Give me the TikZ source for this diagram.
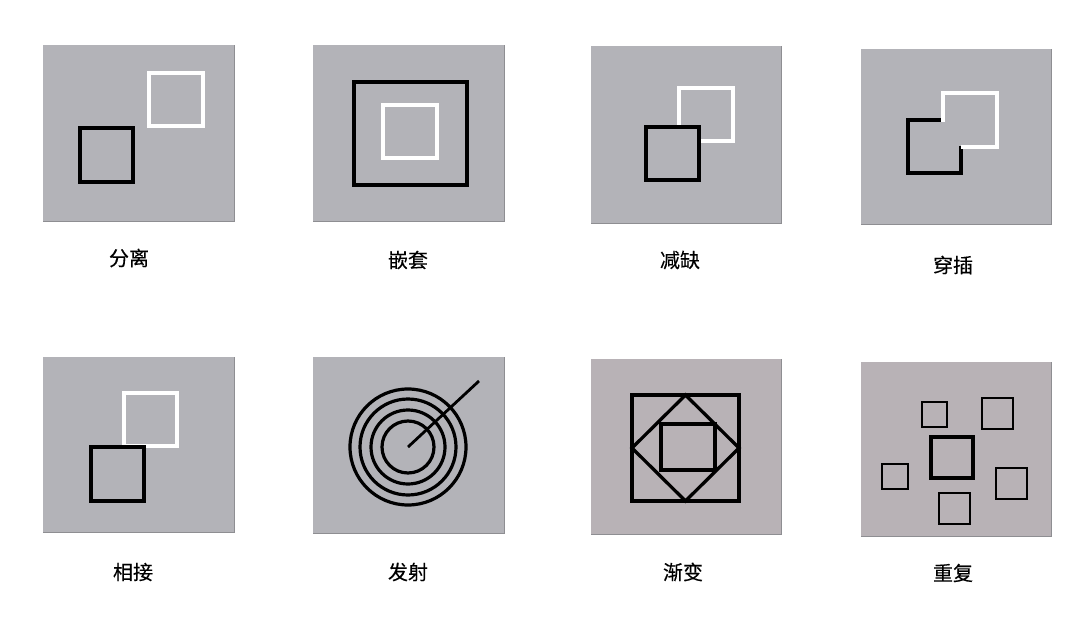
\documentclass[tikz,border=0pt]{standalone}
\usepackage{fontspec}
\newfontfamily\cjk[FakeBold=0.3]{Noto Sans CJK SC}
\definecolor{pgray}{HTML}{B3B3B8}
\definecolor{pgrayp}{HTML}{B8B2B6}
\definecolor{pedge}{HTML}{8E8E92}
\tikzset{
  panel/.style={fill=pgray, draw=none},
  panelp/.style={fill=pgrayp, draw=none},
  blk/.style={draw=black, line width=3.3pt, line join=miter},
  wht/.style={draw=white, line width=3.1pt, line join=miter},
  blks/.style={draw=black, line width=2.8pt, line join=miter},
  lbl/.style={font=\cjk\fontsize{20}{20}\selectfont, text=black, inner sep=0pt},
}
\begin{document}
\begin{tikzpicture}[x=1pt,y=-1pt]
\useasboundingbox (0,0) rectangle (1080,624);
\fill[white] (0,0) rectangle (1080,624);
% panels
\foreach \a/\b/\c/\d/\s in {43/45/234/221/panel, 313/45/504/221/panel, 591/46/781/223/panel, 861/49/1051/224/panel,
  43/357/234/532/panel, 313/357/504/533/panel, 591/359/781/534/panelp, 861/362/1051/536/panelp}{
  \fill[\s] (\a,\b) rectangle (\c,\d);
  \draw[pedge, line width=1pt] (\a,\d) -- (\c,\d) -- (\c,\b);
}
% 1 分离
\draw[wht] (149,73) rectangle (203,126);
\draw[blk] (80,128) rectangle (133,182);
\node[lbl] (l1) at (129,258) {分离};
% 2 嵌套
\draw[blk] (354,82) rectangle (467,185);
\draw[wht] (383,105) rectangle (437,158);
\node[lbl] (l2) at (408,260) {嵌套};
% 3 减缺
\draw[wht] (679,88) rectangle (733,141);
\draw[blk, fill=pgray] (646,127) rectangle (699,180);
\node[lbl] (l3) at (680,260) {减缺};
% 4 穿插
\draw[blk] (943,120) -- (908,120) -- (908,173) -- (961,173) -- (961,146);
\draw[wht] (961,147) -- (997,147) -- (997,93) -- (943,93) -- (943,121.5);
\node[lbl] (l4) at (953,265) {穿插};
% 5 相接
\draw[wht] (124,393) rectangle (177,446);
\draw[blk] (91,447) rectangle (144,501);
\node[lbl] (l5) at (133,572) {相接};
% 6 发射
\foreach \r in {26,37,48,58}{
  \draw[black, line width=3.2pt] (408,447) circle[radius=\r pt];
}
\draw[black, line width=2.8pt] (408,447) -- (479,381);
\node[lbl] (l6) at (408,572) {发射};
% 7 渐变
\draw[blk] (632,395) rectangle (739,501);
\draw[blk] (685.5,395) -- (739,448) -- (685.5,501) -- (632,448) -- cycle;
\draw[blk] (661,424) rectangle (715,470);
\node[lbl] (l7) at (683,572) {渐变};
% 8 重复
\draw[blks] (922,402) rectangle (947,427);
\draw[blks] (982,398) rectangle (1013,429);
\draw[blk] (931,437) rectangle (973,478);
\draw[blks] (882,464) rectangle (908,489);
\draw[blks] (996,468) rectangle (1027,499);
\draw[blks] (939,493) rectangle (970,524);
\node[lbl] (l8) at (953,573) {重复};
\end{tikzpicture}
\end{document}
